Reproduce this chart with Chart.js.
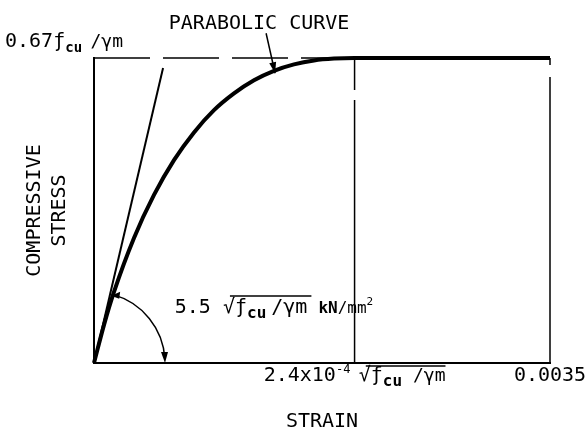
<!DOCTYPE html>
<html>
<head>
<meta charset="utf-8">
<script src="https://cdn.jsdelivr.net/npm/chart.js@4.4.1/dist/chart.umd.min.js"></script>
<style>
html,body{margin:0;padding:0;background:#fff;}
#wrap{width:587px;height:434px;}
</style>
</head>
<body>
<div id="wrap"><canvas id="c" width="587" height="434"></canvas></div>
<script>
// ---- data (strain, stress normalised to 0.67fcu/γm = 1) ----
const curveStrain = [0, 0.0000768, 0.0001535, 0.000307, 0.0004605, 0.000614, 0.0007675, 0.000921, 0.0010745, 0.001228, 0.0013815, 0.001535, 0.0016885, 0.001842, 0.002, 0.0035];
const curveStress = [0, 0.125, 0.233, 0.410, 0.551, 0.665, 0.756, 0.829, 0.884, 0.927, 0.958, 0.979, 0.992, 0.998, 1, 1];
const tangentStrain = [0, 0.00053];
const tangentStress = [0, 0.967];
const peakStrain = 0.002;
const ultimateStrain = 0.0035;
const peakStress = 1;
const xTickValues = [peakStrain, ultimateStrain];
const xTickLabels = ['2.4x10', '0.0035'];
const yTickValue = peakStress;
const yTitle = ['COMPRESSIVE', 'STRESS'];
const xTitle = 'STRAIN';
const curveLabel = 'PARABOLIC CURVE';
const curveArrowStrain = 0.00139;
const curveArrowStress = 0.95;
const modulusLabelStrain = 0.00062;
const modulusLabelStress = 0.164;

const FONT = "'DejaVu Sans Mono', monospace";
const toPts = (xs, ys) => xs.map((x, i) => ({x: x, y: ys[i]}));

function fontOf(r) {
  return (r.b ? 'bold ' : '') + r.s + 'px ' + FONT;
}
function drawRuns(ctx, runs, x, y, align) {
  const widths = runs.map(r => { ctx.font = fontOf(r); return r.w != null ? r.w : ctx.measureText(r.t).width; });
  const total = widths.reduce((a, b) => a + b, 0);
  let cx = align === 'center' ? x - total / 2 : x;
  const pos = [];
  ctx.textAlign = 'left';
  ctx.textBaseline = 'alphabetic';
  runs.forEach((r, i) => {
    ctx.font = fontOf(r);
    if (r.t) ctx.fillText(r.t, cx, y + (r.dy || 0));
    pos.push([cx, cx + widths[i]]);
    cx += widths[i];
  });
  return pos;
}

const textPlugin = {
  id: 'texts',
  afterDraw(chart) {
    const ctx = chart.ctx;
    const xs = chart.scales.x, ys = chart.scales.y;
    ctx.save();
    ctx.fillStyle = '#000';
    ctx.strokeStyle = '#000';

    // y value label at top
    const yTop = ys.getPixelForValue(yTickValue);
    drawRuns(ctx, [
      {t: '0.67', s: 20}, {t: 'ƒ', s: 20}, {t: 'cu', s: 14, b: true, dy: 5},
      {t: ' ', s: 14}, {t: '/γm', s: 18}
    ], 5, yTop - 11, 'left');

    // x tick labels
    const tickBase = chart.chartArea.bottom + 18;
    let p = drawRuns(ctx, [
      {t: xTickLabels[0], s: 20}, {t: '-4', s: 12, dy: -8}, {t: ' ', s: 14},
      {t: '√', s: 20}, {t: 'ƒ', s: 20}, {t: 'cu', s: 16, b: true, dy: 5},
      {t: ' /γm', s: 18}
    ], xs.getPixelForValue(xTickValues[0]), tickBase, 'center');
    ctx.lineWidth = 1.5;
    ctx.beginPath();
    ctx.moveTo(p[3][0] + 7, tickBase - 15);
    ctx.lineTo(p[6][1], tickBase - 15);
    ctx.stroke();
    drawRuns(ctx, [{t: xTickLabels[1], s: 20}], xs.getPixelForValue(xTickValues[1]), tickBase, 'center');

    // modulus label
    const mx = xs.getPixelForValue(modulusLabelStrain), my = ys.getPixelForValue(modulusLabelStress);
    p = drawRuns(ctx, [
      {t: '5.5 ', s: 20}, {t: '√', s: 20}, {t: 'ƒ', s: 20}, {t: 'cu', s: 16, b: true, dy: 5},
      {t: '', s: 16, w: 5}, {t: '/γm', s: 20}, {t: '', s: 16, w: 11}, {t: 'kN', s: 16, b: true}, {t: '/mm', s: 16},
      {t: '2', s: 11, dy: -8}
    ], mx, my, 'left');
    ctx.beginPath();
    ctx.moveTo(p[1][0] + 7, my - 17);
    ctx.lineTo(p[5][1] + 4, my - 17);
    ctx.stroke();

    // parabolic curve label + arrow
    const ax = xs.getPixelForValue(curveArrowStrain), ay = ys.getPixelForValue(curveArrowStress);
    const sx = ax - 9, sy = ay - 40;
    ctx.font = '20px ' + FONT;
    ctx.textAlign = 'center';
    ctx.textBaseline = 'alphabetic';
    ctx.fillText(curveLabel, sx - 7, sy - 4);
    ctx.lineWidth = 1.5;
    ctx.beginPath();
    ctx.moveTo(sx, sy);
    ctx.lineTo(ax, ay);
    ctx.stroke();
    const ang = Math.atan2(ay - sy, ax - sx);
    ctx.beginPath();
    ctx.moveTo(ax, ay);
    ctx.lineTo(ax - 11 * Math.cos(ang) + 3.5 * Math.sin(ang), ay - 11 * Math.sin(ang) - 3.5 * Math.cos(ang));
    ctx.lineTo(ax - 11 * Math.cos(ang) - 3.5 * Math.sin(ang), ay - 11 * Math.sin(ang) + 3.5 * Math.cos(ang));
    ctx.closePath();
    ctx.fill();

    // angle arc (modulus): from the curve down to the strain axis
    const ox = xs.getPixelForValue(0), oy = ys.getPixelForValue(0);
    const R = 71;
    const pts = chart.getDatasetMeta(0).data.map(e => [e.x - ox, e.y - oy]);
    let a0 = -1.22;
    for (let i = 1; i < pts.length; i++) {
      const d0 = Math.hypot(pts[i - 1][0], pts[i - 1][1]), d1 = Math.hypot(pts[i][0], pts[i][1]);
      if (d0 <= R && d1 >= R) {
        const t = (R - d0) / (d1 - d0);
        a0 = Math.atan2(pts[i - 1][1] + t * (pts[i][1] - pts[i - 1][1]), pts[i - 1][0] + t * (pts[i][0] - pts[i - 1][0]));
        break;
      }
    }
    ctx.lineWidth = 1.5;
    ctx.beginPath();
    ctx.arc(ox, oy, R, a0, -0.06, false);
    ctx.stroke();
    const ex = ox + R, ey = oy;
    ctx.beginPath();
    ctx.moveTo(ex, ey);
    ctx.lineTo(ex - 4, ey - 11);
    ctx.lineTo(ex + 3, ey - 11);
    ctx.closePath();
    ctx.fill();
    const bx = ox + R * Math.cos(a0), by = oy + R * Math.sin(a0);
    ctx.beginPath();
    ctx.moveTo(bx - 2, by + 1);
    ctx.lineTo(bx + 7, by - 3);
    ctx.lineTo(bx + 6, by + 4);
    ctx.closePath();
    ctx.fill();
    ctx.restore();
  }
};

new Chart(document.getElementById('c'), {
  type: 'line',
  data: {
    datasets: [
      {
        label: 'Parabolic curve',
        data: toPts(curveStrain, curveStress),
        borderColor: '#000', borderWidth: 4, pointRadius: 0,
        cubicInterpolationMode: 'monotone', clip: false, order: 0
      },
      {
        label: 'Initial tangent',
        data: toPts(tangentStrain, tangentStress),
        borderColor: '#000', borderWidth: 2, pointRadius: 0, clip: false, order: 1
      },
      {
        label: 'Peak stress',
        data: [{x: 0, y: peakStress}, {x: peakStrain, y: peakStress}],
        borderColor: '#000', borderWidth: 1.5, borderDash: [56, 13], pointRadius: 0, clip: false, order: 2
      },
      {
        label: 'Peak strain',
        data: [{x: peakStrain, y: 0}, {x: peakStrain, y: peakStress}],
        borderColor: '#000', borderWidth: 1.5, borderDash: [263, 10], pointRadius: 0, clip: false, order: 2
      },
      {
        label: 'Ultimate strain',
        data: [{x: ultimateStrain, y: 0}, {x: ultimateStrain, y: peakStress}],
        borderColor: '#000', borderWidth: 1.5, borderDash: [286, 12], pointRadius: 0, clip: false, order: 2
      }
    ]
  },
  options: {
    responsive: false,
    animation: false,
    devicePixelRatio: 1,
    layout: {padding: {left: 0, right: 37, top: 58, bottom: 0}},
    plugins: {legend: {display: false}, tooltip: {enabled: false}},
    scales: {
      x: {
        type: 'linear', min: 0, max: ultimateStrain,
        ticks: {display: false},
        grid: {display: false, drawTicks: false},
        border: {display: true, color: '#000', width: 2},
        title: {
          display: true, text: xTitle, color: '#000',
          font: {family: FONT, size: 20, lineHeight: '25px'},
          padding: {top: 46, bottom: 0}
        }
      },
      y: {
        type: 'linear', min: 0, max: peakStress,
        ticks: {display: false},
        grid: {display: false, drawTicks: false},
        border: {display: true, color: '#000', width: 2},
        title: {
          display: true, text: yTitle, color: '#000',
          font: {family: FONT, size: 20, lineHeight: '25px'},
          padding: {top: 22, bottom: 22}
        }
      }
    }
  },
  plugins: [textPlugin]
});
</script>
</body>
</html>
